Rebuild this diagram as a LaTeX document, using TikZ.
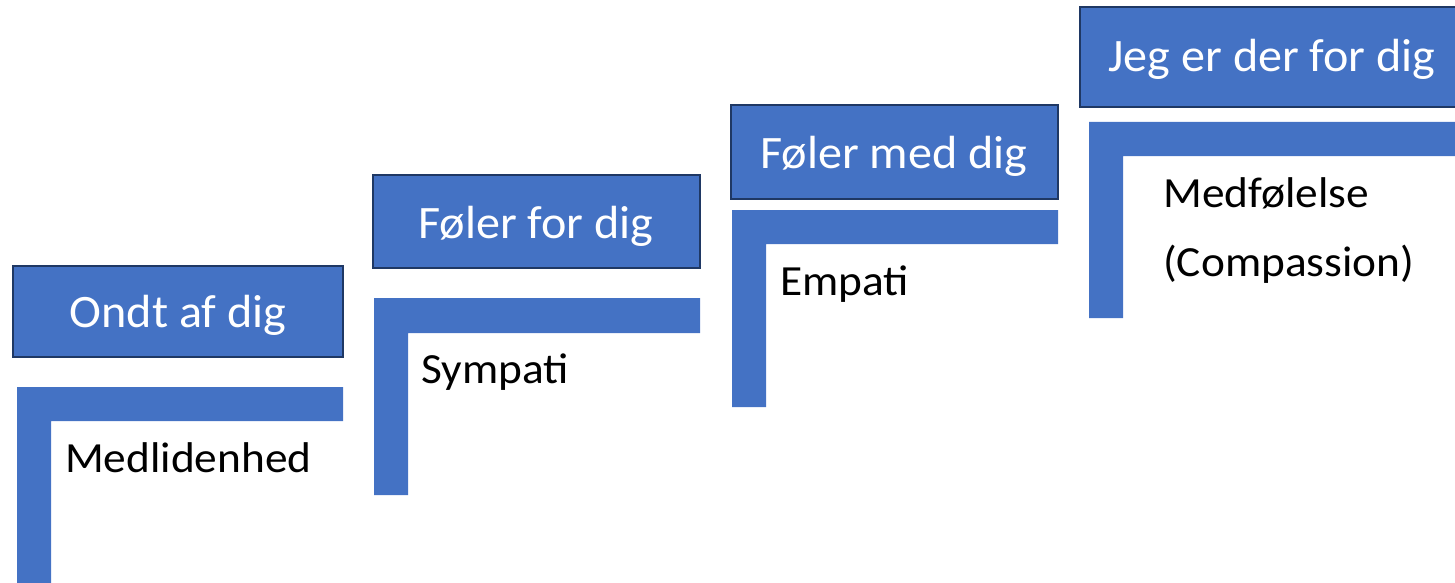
\documentclass[tikz,border=0pt]{standalone}
\usepackage{fontspec}
\usepackage{graphicx}
\setmainfont{Carlito}
\definecolor{stepblue}{HTML}{4472C4}
\definecolor{stepedge}{HTML}{1F3864}
% slightly widened lettering
\newcommand{\widetitle}[1]{\scalebox{1.035}[1]{#1}}
\newcommand{\widebody}[1]{\scalebox{1.055}[1]{#1}}
\tikzset{
  titlebox/.style={fill=stepblue, draw=stepedge, line width=2pt},
  bracket/.style={fill=stepblue},
  titletext/.style={anchor=base, text=white, inner sep=0pt, font=\fontsize{46.5}{55}\selectfont},
  steptext/.style={anchor=base west, text=black, inner sep=0pt, font=\fontsize{43}{50}\selectfont},
}
\begin{document}
\begin{tikzpicture}[x=1pt, y=-1pt]
\useasboundingbox (0,0) rectangle (1455,583);
\clip (0,0) rectangle (1455,583);

% step 1
\draw[titlebox] (13,266) rectangle (343,357);
\node[titletext] (t1) at (178,327) {\widetitle{Ondt af dig}};
\fill[bracket] (17,387) -- (343,387) -- (343,421) -- (51,421) -- (51,590) -- (17,590) -- cycle;
\node[steptext] (s1) at (65,472) {\widebody{Medlidenhed}};

% step 2
\draw[titlebox] (373,175) rectangle (700,268);
\node[titletext] (t2) at (536,238) {\widetitle{Føler for dig}};
\fill[bracket] (374,298) -- (700,298) -- (700,333) -- (408,333) -- (408,495) -- (374,495) -- cycle;
\node[steptext] (s2) at (421,383) {\widebody{Sympati}};

% step 3
\draw[titlebox] (731,105) rectangle (1058,199);
\node[titletext] (t3) at (894,168) {\widetitle{Føler med dig}};
\fill[bracket] (732,210) -- (1058,210) -- (1058,244) -- (766,244) -- (766,407) -- (732,407) -- cycle;
\node[steptext] (s3) at (780,295) {\widebody{Empati}};

% step 4
\draw[titlebox] (1080,7) rectangle (1464,107);
\node[titletext] (t4) at (1272,72) {\widetitle{Jeg er der for dig}};
\fill[bracket] (1089,122) -- (1460,122) -- (1460,156) -- (1123,156) -- (1123,318) -- (1089,318) -- cycle;
\node[steptext] (s4) at (1163,207) {\widebody{Medfølelse}};
\node[steptext] (s4b) at (1163,276) {\widebody{(Compassion)}};
\end{tikzpicture}
\end{document}
